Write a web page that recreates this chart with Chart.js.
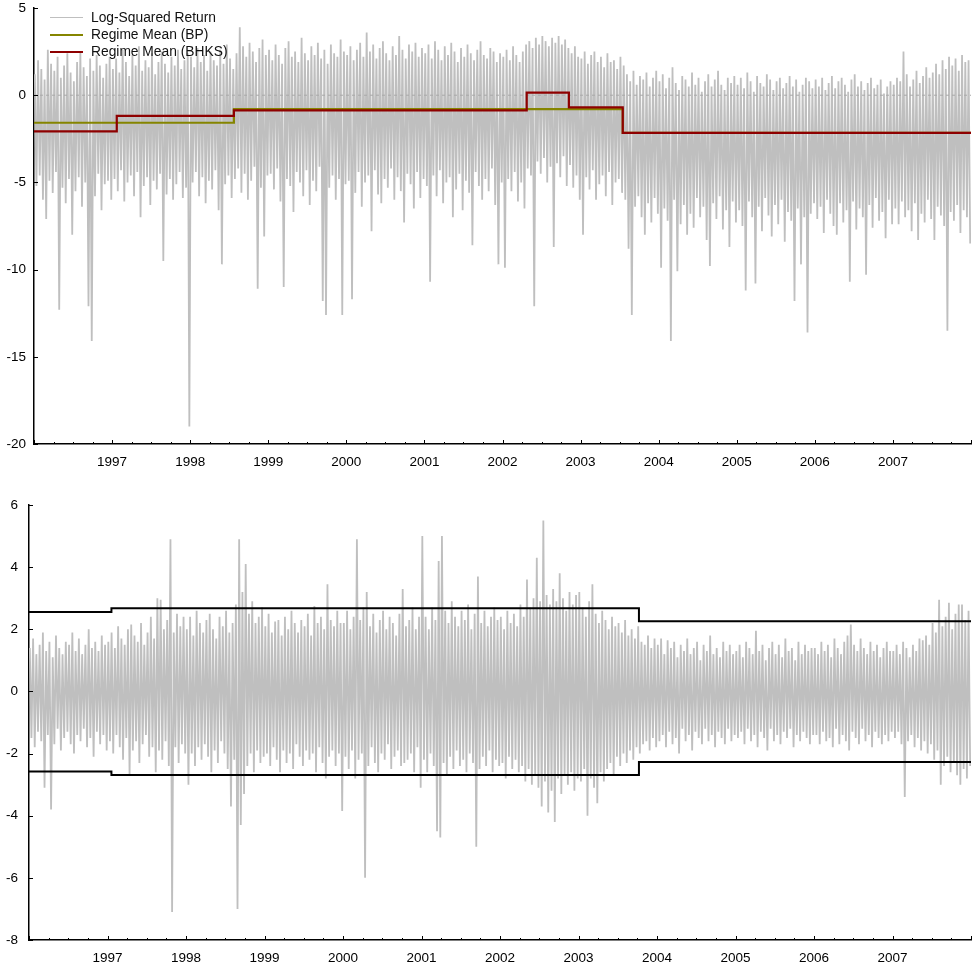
<!DOCTYPE html>
<html><head><meta charset="utf-8">
<script src="https://cdn.jsdelivr.net/npm/chart.js@4.4.1/dist/chart.umd.min.js"></script>
<style>
html,body{margin:0;padding:0;background:#fff;}
body{width:972px;height:965px;position:relative;overflow:hidden;font-family:"Liberation Sans",Arial,sans-serif;}
#c1{position:absolute;left:0;top:0;}
#c2{position:absolute;left:0;top:480px;}
#legend{position:absolute;left:50px;top:9px;font-size:13.8px;color:#111;}
.item{height:17px;display:flex;align-items:center;white-space:nowrap;}
.sw{width:33px;margin-right:8px;}
</style></head><body>
<canvas id="c1" width="972" height="480"></canvas>
<canvas id="c2" width="972" height="485"></canvas>
<div id="legend"></div>
<script>
// ---------- data ----------
const START_YEAR = 1996;
const END_YEAR = 2008;
const BINS_PER_YEAR = 24; // half-month bins: max / min of the daily series in each bin
const YEAR_TICKS = [1997, 1998, 1999, 2000, 2001, 2002, 2003, 2004, 2005, 2006, 2007];

// Top panel: log-squared return, per-bin max
const LSR_HI = [
 1.2,2.0,1.5,0.9,2.6,1.8,1.4,2.2,1.0,1.7,2.4,1.3,0.8,1.9,2.5,1.6,1.1,2.1,1.4,2.3,1.7,1.0,1.8,2.2,
 1.5,2.1,1.3,2.6,1.9,1.1,2.3,1.7,2.8,1.4,2.0,1.6,2.4,1.2,1.9,2.5,1.8,1.3,2.2,1.7,2.6,1.5,2.0,2.4,
 2.2,1.6,2.7,1.9,2.3,1.4,2.5,2.0,1.7,2.6,1.8,2.9,2.1,1.5,2.4,3.9,2.8,2.2,3.0,2.5,1.9,2.7,3.2,2.3,
 2.6,2.0,2.9,2.3,1.8,2.7,3.1,2.2,2.5,1.9,3.3,2.4,2.0,2.8,2.3,3.0,2.1,2.6,1.8,2.9,2.4,2.2,3.2,2.5,
 2.3,2.8,2.0,2.6,3.0,2.2,3.6,2.5,2.9,2.1,2.7,3.1,2.4,2.0,2.8,2.3,3.4,2.6,2.1,2.9,2.5,3.0,2.2,2.7,
 2.4,2.9,2.1,3.1,2.6,2.0,2.8,2.3,3.0,2.5,1.9,2.7,2.2,2.9,2.4,2.0,2.6,3.1,2.3,2.1,2.7,2.5,1.9,2.4,
 2.2,2.6,2.0,2.8,2.3,1.9,2.5,2.9,3.1,2.7,3.3,2.9,3.4,3.1,2.8,3.3,3.0,3.4,2.9,3.2,2.7,2.4,2.8,2.2,
 2.1,2.5,1.8,2.3,2.5,1.9,2.2,1.6,2.4,1.9,2.0,1.5,2.2,1.7,1.2,0.8,1.4,0.6,1.1,0.9,1.3,0.5,1.0,1.4,
 0.8,1.2,0.4,1.0,1.6,0.7,0.3,1.1,0.9,0.5,1.3,0.6,1.0,0.2,0.8,1.2,0.5,0.9,1.4,0.6,0.3,1.0,0.7,1.1,
 0.6,1.0,0.4,1.3,0.8,0.2,1.1,0.7,0.5,1.2,0.9,0.3,0.8,1.0,0.4,0.7,1.1,0.5,0.9,0.2,0.6,1.0,0.8,0.4,
 0.9,0.5,1.0,0.3,0.7,1.1,0.4,0.8,1.0,0.6,0.2,0.9,1.2,0.5,0.8,0.3,0.7,1.0,0.4,0.6,0.9,0.1,0.5,0.8,
 0.6,1.0,0.8,2.5,1.2,0.5,0.9,1.4,0.7,1.1,1.6,1.0,1.3,1.8,1.2,2.0,1.5,2.2,1.7,2.1,1.4,2.3,1.9,2.0
];
// Top panel: log-squared return, per-bin min
const LSR_LO = [
 -5.2,-4.6,-6.0,-7.1,-4.9,-5.6,-4.4,-12.3,-5.3,-6.2,-4.8,-8.0,-5.5,-4.7,-6.4,-5.0,-12.1,-14.1,-5.8,-4.5,-6.6,-5.1,-4.9,-6.0,
 -4.8,-5.5,-4.3,-6.1,-5.0,-4.6,-5.8,-4.4,-7.0,-5.2,-4.7,-6.3,-4.9,-5.4,-4.5,-9.5,-5.7,-4.8,-6.0,-5.1,-4.4,-5.9,-5.3,-19.0,
 -5.0,-4.4,-5.8,-4.7,-6.2,-4.9,-5.4,-4.3,-6.6,-9.7,-5.1,-4.6,-5.9,-4.8,-4.2,-5.6,-4.5,-6.0,-4.9,-4.1,-11.1,-5.3,-8.1,-4.6,
 -4.5,-5.4,-4.2,-6.1,-11.0,-4.8,-5.2,-6.7,-4.4,-5.0,-5.8,-4.3,-6.3,-4.9,-5.5,-4.1,-11.8,-12.6,-5.3,-4.6,-6.0,-4.8,-12.6,-5.1,
 -4.9,-11.7,-5.6,-4.4,-6.4,-5.0,-4.6,-7.8,-4.3,-5.7,-6.2,-4.8,-5.3,-4.2,-6.0,-4.7,-5.5,-7.3,-4.5,-5.1,-6.5,-4.4,-5.9,-4.8,
 -5.2,-10.7,-4.6,-5.8,-4.3,-6.2,-5.0,-4.7,-7.0,-5.4,-4.5,-6.6,-4.9,-5.6,-8.6,-4.4,-5.2,-6.0,-4.8,-5.5,-4.2,-6.3,-9.7,-5.0,
 -9.9,-4.8,-5.5,-4.4,-6.1,-5.0,-6.5,-4.2,-4.6,-12.1,-3.8,-4.5,-3.6,-5.0,-4.1,-8.7,-3.9,-4.7,-3.5,-5.2,-4.0,-5.3,-4.6,-6.0,
 -8.0,-4.7,-5.4,-4.3,-6.0,-5.1,-4.6,-5.8,-4.4,-6.3,-5.0,-4.8,-5.6,-6.0,-8.8,-12.6,-6.4,-5.8,-7.0,-8.0,-6.2,-7.3,-5.9,-6.8,
 -9.9,-6.5,-7.2,-14.1,-6.0,-10.1,-7.4,-6.3,-8.0,-6.8,-7.6,-5.9,-7.0,-6.4,-8.3,-9.8,-6.2,-7.1,-5.8,-7.7,-6.6,-8.7,-6.1,-7.3,
 -6.6,-7.5,-11.2,-6.1,-7.0,-10.8,-6.4,-7.8,-5.9,-6.9,-8.1,-6.3,-7.4,-6.0,-8.4,-6.7,-7.2,-11.8,-6.5,-9.7,-7.0,-13.6,-6.8,-6.2,
 -7.1,-6.4,-7.9,-6.0,-6.8,-7.5,-8.0,-6.2,-7.3,-6.6,-10.7,-6.1,-7.7,-6.5,-7.0,-10.3,-6.3,-7.6,-5.9,-7.2,-6.7,-8.2,-6.0,-7.4,
 -6.5,-7.4,-6.1,-7.0,-6.6,-7.8,-6.2,-8.3,-6.8,-7.3,-6.0,-7.1,-8.3,-6.4,-6.9,-7.5,-13.5,-6.7,-7.2,-6.3,-7.9,-6.6,-7.0,-8.5
];
// Regime means (step functions): break years and level
const BP_BREAKS = [1996, 1998.56, 2003.54, 2008];
const BP_MEANS = [-1.58, -0.80, -2.16, -2.16];
const BHKS_BREAKS = [1996, 1997.06, 1998.56, 2002.31, 2002.85, 2003.54, 2008];
const BHKS_MEANS = [-2.07, -1.19, -0.87, 0.15, -0.70, -2.16, -2.16];

// Bottom panel: return, per-bin max / min
const RET_HI = [
 1.4,1.7,1.2,1.5,1.9,1.3,1.6,1.1,1.8,1.4,1.2,1.6,1.5,1.9,1.3,1.7,1.2,1.5,2.0,1.4,1.6,1.3,1.8,1.5,
 1.6,1.9,1.4,2.1,1.7,1.5,2.0,2.15,1.8,1.6,2.2,1.5,1.9,2.4,1.7,3.0,2.95,2.0,2.3,4.9,1.9,2.5,2.1,2.4,
 2.0,2.4,1.8,2.6,2.2,1.9,2.3,2.5,2.0,1.7,2.4,2.1,2.6,1.9,2.2,2.8,4.9,3.2,4.1,2.5,2.9,2.2,2.4,2.7,
 2.1,2.5,1.9,2.25,2.3,1.8,2.4,2.0,2.6,2.2,1.9,2.3,2.1,2.5,1.8,2.75,2.2,2.4,2.0,3.45,2.3,2.1,2.6,2.2,
 2.2,2.6,2.0,2.4,4.9,2.3,2.7,3.2,2.1,2.5,1.9,2.3,2.6,2.0,2.4,2.2,1.8,2.5,3.3,2.1,2.3,2.7,2.0,2.4,
 5.0,2.4,2.0,2.7,2.3,4.2,5.0,2.6,2.2,2.9,2.4,2.1,2.6,2.3,2.8,2.0,2.5,3.7,2.2,2.6,2.1,2.4,2.7,2.3,
 2.4,2.0,2.6,2.2,2.5,2.1,2.8,2.4,3.6,2.7,3.0,4.3,2.9,5.5,3.1,2.8,3.3,2.9,3.8,3.0,2.6,3.2,2.8,3.1,
 3.2,2.7,2.4,2.9,3.45,2.5,2.2,2.6,2.3,2.0,2.4,2.1,2.2,1.9,2.3,1.8,2.0,1.7,2.1,1.6,1.5,1.8,1.4,1.7,
 1.5,1.7,1.2,1.65,1.4,1.6,1.1,1.5,1.3,1.7,1.2,1.4,1.6,1.0,1.5,1.3,1.8,1.2,1.4,1.1,1.6,1.3,1.5,1.2,
 1.3,1.5,1.1,1.6,1.4,1.2,1.95,1.3,1.5,1.0,1.4,1.6,1.2,1.5,1.1,1.7,1.3,1.4,1.0,1.6,1.2,1.5,1.3,1.4,
 1.4,1.2,1.6,1.3,1.5,1.1,1.7,1.4,1.2,1.6,1.8,2.15,1.5,1.3,1.7,1.4,1.2,1.6,1.3,1.5,1.1,1.4,1.6,1.3,
 1.3,1.5,1.2,1.6,1.4,1.1,1.5,1.3,1.7,1.65,1.8,1.5,2.2,1.9,2.95,2.1,2.4,2.85,2.0,2.5,2.8,2.8,2.3,2.6
];
const RET_LO = [
 -1.5,-1.8,-1.3,-1.6,-3.1,-1.4,-3.8,-1.7,-1.2,-1.9,-1.5,-1.3,-1.7,-2.0,-1.4,-1.6,-1.2,-1.8,-1.5,-2.1,-1.3,-1.7,-1.4,-1.9,
 -1.6,-2.0,-1.4,-1.8,-2.2,-1.5,-2.7,-1.9,-1.6,-2.3,-1.7,-1.4,-2.1,-1.8,-2.6,-1.9,-2.2,-1.6,-2.4,-7.1,-1.8,-2.3,-1.7,-2.0,
 -3.0,-2.0,-2.4,-1.8,-2.2,-1.7,-2.1,-2.6,-1.9,-2.3,-1.6,-2.0,-2.5,-3.7,-2.2,-7.0,-4.3,-3.3,-2.4,-2.0,-2.6,-1.9,-2.3,-2.1,
 -2.0,-2.4,-1.8,-2.2,-2.6,-1.9,-2.3,-2.0,-2.5,-1.7,-2.1,-2.4,-1.9,-2.2,-2.0,-2.6,-1.8,-2.3,-2.8,-2.1,-1.9,-2.4,-2.0,-3.85,
 -2.1,-2.5,-1.9,-2.8,-2.2,-2.0,-6.0,-2.4,-1.8,-2.3,-2.6,-2.0,-2.2,-1.7,-2.5,-2.1,-1.9,-2.4,-2.3,-2.2,-2.0,-2.6,-1.8,-3.1,
 -2.2,-2.6,-2.0,-2.4,-4.5,-4.7,-2.3,-2.7,-2.1,-2.5,-1.9,-2.4,-2.2,-2.6,-2.0,-2.3,-5.0,-2.5,-2.1,-2.4,-1.9,-2.6,-2.2,-2.4,
 -2.3,-2.8,-2.1,-2.5,-2.2,-2.6,-2.4,-2.9,-2.5,-3.0,-2.7,-3.1,-3.7,-2.9,-3.9,-3.2,-4.2,-2.8,-3.3,-2.7,-3.0,-2.6,-3.2,-2.8,
 -2.9,-2.5,-4.0,-2.8,-3.1,-3.6,-2.6,-2.9,-2.5,-2.3,-2.7,-2.1,-2.4,-2.0,-2.3,-1.9,-2.2,-1.8,-2.0,-1.7,-1.6,-1.9,-1.5,-1.8,
 -1.6,-1.4,-1.8,-1.3,-1.7,-1.5,-2.0,-1.2,-1.6,-1.4,-1.9,-1.3,-1.5,-1.7,-1.2,-1.6,-1.4,-1.8,-1.3,-1.5,-1.7,-1.2,-1.6,-1.4,
 -1.5,-1.3,-1.7,-1.2,-1.6,-1.4,-1.8,-1.3,-1.5,-1.9,-1.2,-1.6,-1.4,-1.7,-1.3,-1.5,-1.2,-1.8,-1.4,-1.6,-1.3,-1.5,-1.7,-1.4,
 -1.4,-1.7,-1.3,-1.6,-1.5,-1.8,-1.2,-1.7,-1.4,-1.6,-1.9,-1.3,-1.5,-1.7,-1.2,-1.6,-1.4,-1.8,-1.3,-1.5,-1.7,-1.4,-1.6,-1.3,
 -1.5,-1.3,-1.7,-3.4,-1.6,-1.4,-1.8,-1.5,-1.9,-1.6,-2.0,-1.7,-2.2,-1.9,-3.0,-2.4,-2.1,-2.6,-2.3,-2.7,-3.0,-2.5,-2.8,-2.4
];
// Volatility bands (step functions)
const BAND_BREAKS = [1996, 1997.05, 2003.77, 2008];
const BAND_UPPER = [2.56, 2.68, 2.26, 2.26];
const BAND_LOWER = [-2.58, -2.69, -2.27, -2.27];

// ---------- helpers ----------
function binSeries(hi, lo) {
  const pts = [];
  for (let i = 0; i < hi.length; i++) {
    pts.push({x: START_YEAR + (i + 0.25) / BINS_PER_YEAR, y: hi[i]});
    pts.push({x: START_YEAR + (i + 0.75) / BINS_PER_YEAR, y: lo[i]});
  }
  return pts;
}
function stepSeries(breaks, vals) { return breaks.map((b, i) => ({x: b, y: vals[i]})); }

const FONT = {family: '"Liberation Sans", Arial, sans-serif', size: 13.5};
const GRAY = '#bfbfbf';

const inwardTicks = {
  id: 'inwardTicks',
  afterDatasetsDraw(chart) {
    const {ctx, chartArea: a, scales: {x, y}} = chart;
    ctx.save();
    ctx.strokeStyle = '#000';
    ctx.lineWidth = 1;
    ctx.beginPath();
    for (let k = 0; k <= (END_YEAR - START_YEAR) * 4; k++) {
      const v = START_YEAR + k / 4;
      const px = Math.round(x.getPixelForValue(v)) + 0.5;
      const len = (k % 4 === 0) ? 4 : 2;
      ctx.moveTo(px, a.bottom);
      ctx.lineTo(px, a.bottom - len);
    }
    y.ticks.forEach(t => {
      const py = Math.round(y.getPixelForValue(t.value)) + 0.5;
      ctx.moveTo(a.left, py);
      ctx.lineTo(a.left + 4, py);
    });
    ctx.stroke();
    ctx.restore();
  }
};

function xScale(h) {
  return {
    type: 'linear', min: START_YEAR, max: END_YEAR,
    afterBuildTicks: s => { s.ticks = YEAR_TICKS.map(v => ({value: v})); },
    ticks: {font: FONT, color: '#000', padding: 10, maxRotation: 0, autoSkip: false, callback: v => String(v)},
    grid: {display: false, drawTicks: false},
    border: {display: true, color: '#000', width: 1.5},
    afterFit: s => { s.height = h; }
  };
}
function yScale(min, max, step, w, pad) {
  return {
    min, max,
    ticks: {stepSize: step, font: FONT, color: '#000', padding: pad},
    grid: {display: false, drawTicks: false},
    border: {display: true, color: '#000', width: 1.5},
    afterFit: s => { s.width = w; s.paddingTop = 0; s.paddingBottom = 0; }
  };
}

const common = {
  responsive: false, animation: false, events: [],
  plugins: {legend: {display: false}, tooltip: {enabled: false}},
  elements: {point: {radius: 0}, line: {tension: 0}}
};

// ---------- top chart ----------
const chart1 = new Chart(document.getElementById('c1'), {
  type: 'line',
  data: {datasets: [
    {label: 'Regime Mean (BHKS)', data: stepSeries(BHKS_BREAKS, BHKS_MEANS), borderColor: '#8e0000', borderWidth: 2.2, stepped: 'before', order: 0},
    {label: 'Regime Mean (BP)', data: stepSeries(BP_BREAKS, BP_MEANS), borderColor: '#858500', borderWidth: 2.2, stepped: 'before', order: 1},
    {label: '', data: [{x: START_YEAR, y: 0}, {x: END_YEAR, y: 0}], borderColor: '#a8a8a8', borderWidth: 1, borderDash: [3, 3], order: 2},
    {label: 'Log-Squared Return', data: binSeries(LSR_HI, LSR_LO), borderColor: GRAY, borderWidth: 1.8, order: 3}
  ]},
  options: Object.assign({}, common, {
    layout: {padding: {top: 8, right: 1, left: 0, bottom: 0}},
    scales: {x: xScale(36), y: yScale(-20, 5, 5, 34, 8)}
  }),
  plugins: [inwardTicks]
});

// ---------- bottom chart ----------
const chart2 = new Chart(document.getElementById('c2'), {
  type: 'line',
  data: {datasets: [
    {label: 'Upper', data: stepSeries(BAND_BREAKS, BAND_UPPER), borderColor: '#000', borderWidth: 2, stepped: 'before', order: 0},
    {label: 'Lower', data: stepSeries(BAND_BREAKS, BAND_LOWER), borderColor: '#000', borderWidth: 2, stepped: 'before', order: 0},
    {label: 'Return', data: binSeries(RET_HI, RET_LO), borderColor: GRAY, borderWidth: 1.8, order: 1}
  ]},
  options: Object.assign({}, common, {
    layout: {padding: {top: 25, right: 1, left: 0, bottom: 0}},
    scales: {x: xScale(25), y: yScale(-8, 6, 2, 29, 11)}
  }),
  plugins: [inwardTicks]
});

// ---------- legend (built from the top chart's datasets) ----------
const legendOrder = ['Log-Squared Return', 'Regime Mean (BP)', 'Regime Mean (BHKS)'];
const legendSwatch = {'Log-Squared Return': 1, 'Regime Mean (BP)': 2, 'Regime Mean (BHKS)': 2};
const leg = document.getElementById('legend');
legendOrder.forEach(name => {
  const ds = chart1.data.datasets.find(d => d.label === name);
  const row = document.createElement('div'); row.className = 'item';
  const sw = document.createElement('span'); sw.className = 'sw';
  sw.style.height = legendSwatch[name] + 'px'; sw.style.background = ds.borderColor;
  const tx = document.createElement('span'); tx.textContent = ds.label;
  row.appendChild(sw); row.appendChild(tx); leg.appendChild(row);
});
</script>
</body></html>
